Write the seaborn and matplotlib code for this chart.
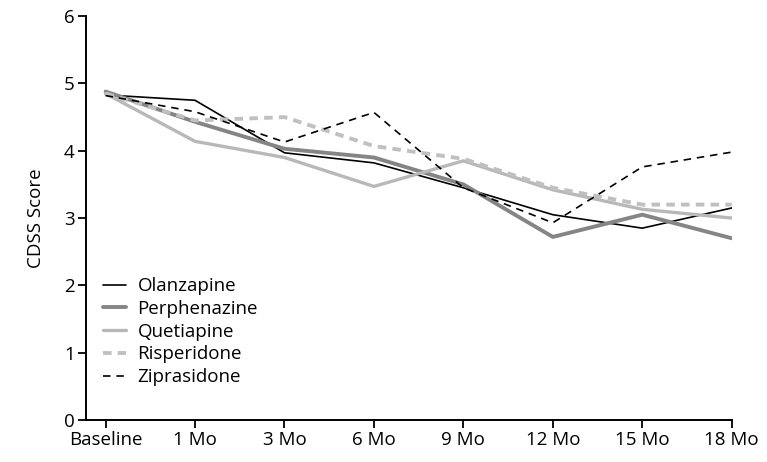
import pandas as pd
import seaborn as sns
import matplotlib.pyplot as plt

# time points and CDSS scores
visits = ['Baseline', '1 Mo', '3 Mo', '6 Mo', '9 Mo', '12 Mo', '15 Mo', '18 Mo']
olanzapine = [4.83, 4.75, 3.97, 3.82, 3.45, 3.05, 2.85, 3.15]
perphenazine = [4.88, 4.43, 4.03, 3.90, 3.50, 2.72, 3.05, 2.70]
quetiapine = [4.85, 4.14, 3.90, 3.47, 3.85, 3.42, 3.13, 3.00]
risperidone = [4.85, 4.45, 4.50, 4.07, 3.88, 3.45, 3.20, 3.20]
ziprasidone = [4.82, 4.58, 4.13, 4.57, 3.45, 2.93, 3.76, 3.98]

drugs = ['Olanzapine', 'Perphenazine', 'Quetiapine', 'Risperidone', 'Ziprasidone']
series = [olanzapine, perphenazine, quetiapine, risperidone, ziprasidone]

df = pd.DataFrame({'visit': list(range(len(visits))) * len(drugs),
                   'score': sum(series, []),
                   'drug': [d for d in drugs for _ in visits]})

sns.set_style('ticks')
plt.rcParams['font.family'] = ['Open Sans', 'DejaVu Sans']
plt.rcParams['text.color'] = 'black'
plt.rcParams['axes.labelcolor'] = 'black'

fig = plt.figure(figsize=(7.67, 4.62), dpi=100)
ax = fig.add_axes([0.112, 0.091, 0.842, 0.874])

styles = {
    'Olanzapine': dict(color='black', lw=1.2, ls='-'),
    'Perphenazine': dict(color='#858585', lw=2.8, ls='-'),
    'Quetiapine': dict(color='#b8b8b8', lw=2.4, ls='-'),
    'Risperidone': dict(color='#c0c0c0', lw=2.8, ls=(0, (2.2, 1.6))),
    'Ziprasidone': dict(color='black', lw=1.2, ls=(0, (4.5, 3.5))),
}

for d in drugs:
    st = styles[d]
    sns.lineplot(data=df[df['drug'] == d], x='visit', y='score', ax=ax,
                 color=st['color'], linewidth=st['lw'], linestyle=st['ls'],
                 label=d)

ax.set_xlim(-0.22, 7)
ax.set_ylim(0, 6)
ax.set_xticks(range(len(visits)))
ax.set_xticklabels(visits)
ax.set_yticks(range(7))
ax.set_xlabel('')
ax.set_ylabel('CDSS Score', fontsize=13.5, labelpad=14)
ax.tick_params(axis='both', labelsize=13.5, length=6, width=1.3, colors='black', pad=2)
for s in ['left', 'bottom']:
    ax.spines[s].set_linewidth(1.4)
    ax.spines[s].set_color('black')
sns.despine(ax=ax)

ax.legend(loc='upper left', bbox_to_anchor=(0.0, 0.395), frameon=False,
          fontsize=13.5, handlelength=1.25, handletextpad=0.6, labelspacing=0.25)

fig.savefig('out.png', dpi=100)
